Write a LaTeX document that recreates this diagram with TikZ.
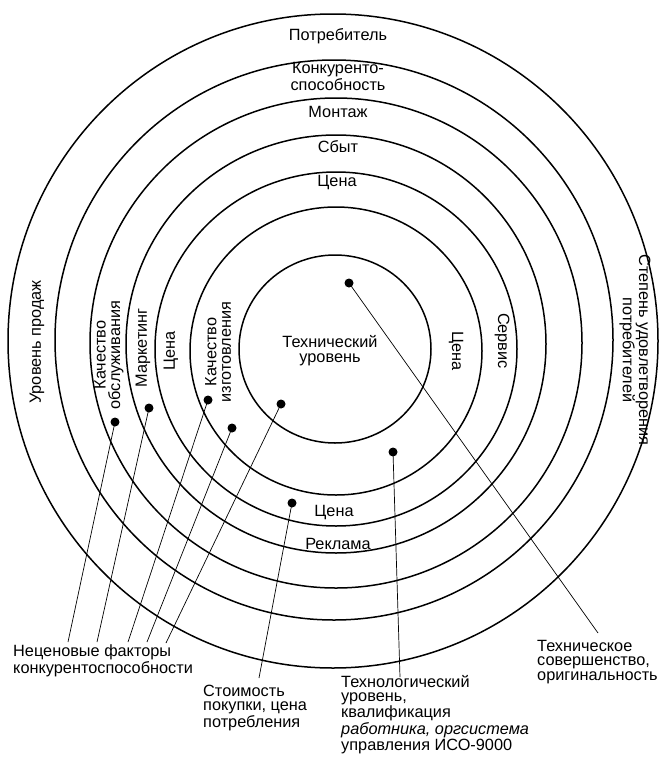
\documentclass[tikz,border=0pt]{standalone}
\usepackage{fontspec}
\setmainfont{Liberation Sans}
\begin{document}
\begin{tikzpicture}[x=1pt,y=-1pt,
  ring/.style={line width=1.5pt},
  leader/.style={line width=0.7pt},
  dot/.style={circle,fill=black,inner sep=0pt,minimum size=9pt},
  lbl/.style={inner sep=0pt,font=\fontsize{16.3}{14.5}\selectfont},
  blk/.style={lbl,anchor=base west,align=left}]
\useasboundingbox (0,0) rectangle (669,763);
\fill[white] (0,0) rectangle (669,763);
% rings
\draw[ring] (333,341) ellipse [x radius=325, y radius=327];
\draw[ring] (334,340) ellipse [x radius=279, y radius=280];
\draw[ring] (336,343) ellipse [x radius=246, y radius=245];
\draw[ring] (336,344) ellipse [x radius=210, y radius=209];
\draw[ring] (336,349) ellipse [x radius=181, y radius=177];
\draw[ring] (336,351) ellipse [x radius=146, y radius=144];
\draw[ring] (335,349) ellipse [x radius=96, y radius=94];
% ring labels (multi-line nodes: base = last line)
\node[lbl,anchor=base] (t1) at (338,40) {Потребитель};
\node[lbl,anchor=base,align=center] (t2) at (338,90) {Конкуренто-\\способность};
\node[lbl,anchor=base] (t3) at (338,117) {Монтаж};
\node[lbl,anchor=base] (t4) at (338,152) {Сбыт};
\node[lbl,anchor=base] (t5) at (337,186) {Цена};
\node[lbl,anchor=base,align=center] (t6) at (330,362) {Технический\\уровень};
\node[lbl,anchor=base] (t7) at (334,516) {Цена};
\node[lbl,anchor=base] (t8) at (338,549) {Реклама};
\node[lbl,rotate=90] (l1) at (37,342) {Уровень продаж};
\node[lbl,rotate=90,align=center] (l2) at (109,355) {Качество\\обслуживания};
\node[lbl,rotate=90] (l3) at (143,348) {Маркетинг};
\node[lbl,rotate=90] (l4) at (171,351) {Цена};
\node[lbl,rotate=90,align=center] (l5) at (218,352) {Качество\\изготовления};
\node[lbl,rotate=-90] (r1) at (456,351) {Цена};
\node[lbl,rotate=-90] (r2) at (502,341) {Сервис};
\node[lbl,rotate=-90,align=center] (r3) at (635,350) {Степень удовлетворения\\потребителей};
% dots
\node[dot] (d1) at (115,422) {};
\node[dot] (d2) at (149,408) {};
\node[dot] (d3) at (208,400) {};
\node[dot] (d4) at (232,428) {};
\node[dot] (d5) at (281,404) {};
\node[dot] (d6) at (292,503) {};
\node[dot] (d7) at (393,452) {};
\node[dot] (d8) at (349,283) {};
% leader ends
\coordinate (e1) at (68,642);
\coordinate (e2) at (97,642);
\coordinate (e3) at (128,642);
\coordinate (e4) at (147,642);
\coordinate (e5) at (166,643);
\coordinate (e6) at (259,678);
\coordinate (e7) at (400,677);
\coordinate (e8) at (598,633);
\foreach \i in {1,...,8} \draw[leader] (d\i.center) -- (e\i);
% bottom labels
\node[blk] (b1) at (13,673) {Неценовые факторы\\конкурентоспособности};
\node[blk] (b2) at (203,727) {Стоимость\\покупки, цена\\потребления};
\node[blk] (b3) at (341,750) {Технологический\\уровень,\\квалификация\\\textit{работника, оргсистема}\\управления ИСО-9000};
\node[blk] (b4) at (537,680) {Техническое\\совершенство,\\оригинальность};
\end{tikzpicture}
\end{document}
